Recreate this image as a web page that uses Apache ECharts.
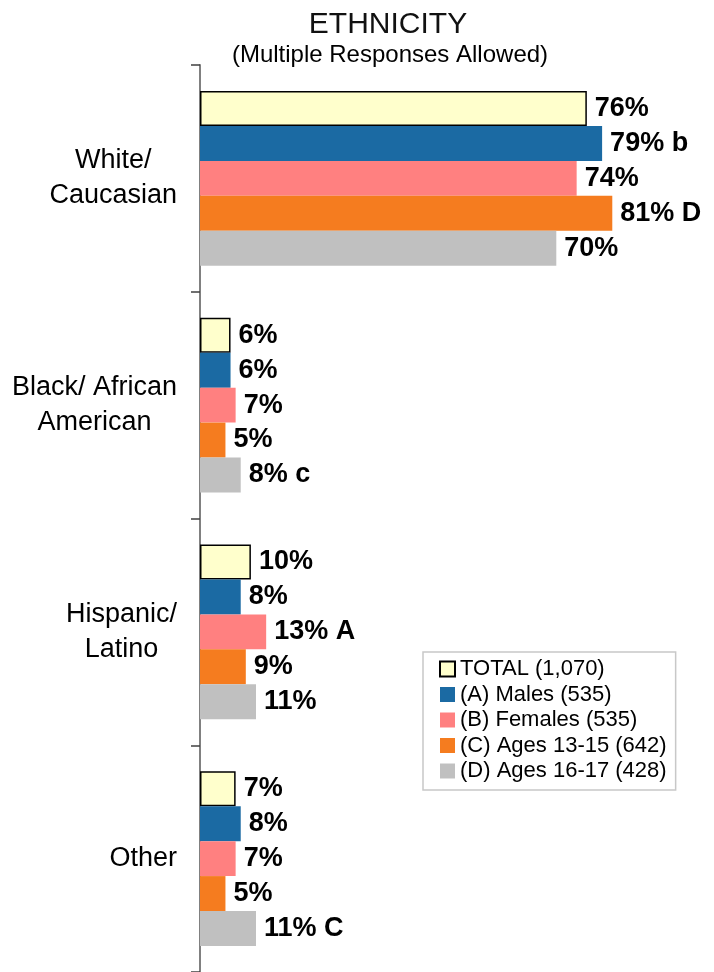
<!DOCTYPE html>
<html>
	<head>
		<meta charset="utf-8" />
		<title>ethnicity</title>
		<script src="https://cdn.jsdelivr.net/npm/echarts@6/dist/echarts.min.js"></script>
	</head>
	<body style="margin:0;">
		<div id="chart" style="width:714px;height:972px;"></div>
	</body>
	<script type="text/javascript">

	var categories = ['White/\nCaucasian', 'Black/ African\nAmerican', 'Hispanic/\nLatino', 'Other'];
	var seriesNames = ['TOTAL (1,070)', '(A) Males (535)', '(B) Females (535)', '(C) Ages 13-15 (642)', '(D) Ages 16-17 (428)'];

	var total    = [76, 6, 10, 7];
	var males    = [79, 6, 8, 8];
	var females  = [74, 7, 13, 7];
	var ages1315 = [81, 5, 9, 5];
	var ages1617 = [70, 8, 11, 11];

	// significance letters after the percent
	var totalSig    = ['', '', '', ''];
	var malesSig    = ['b', '', '', ''];
	var femalesSig  = ['', '', 'A', ''];
	var ages1315Sig = ['D', '', '', ''];
	var ages1617Sig = ['', 'c', '', 'C'];

	var colors = ['#FFFFCC', '#1B6AA3', '#FF8080', '#F57C1F', '#C0C0C0'];
	var font = 'Liberation Sans, Arial, sans-serif';
	var catFontSize = 27;

	// category labels: block right aligned, lines centred inside the block
	var ctx = document.createElement('canvas').getContext('2d');
	ctx.font = catFontSize + 'px ' + font;
	var rich = {};
	var catLabels = categories.map(function (c, i) {
		var lines = c.split('\n');
		var ws = lines.map(function (l) { return ctx.measureText(l).width; });
		var maxW = Math.max.apply(null, ws);
		return lines.map(function (l, j) {
			var key = 'c' + i + '_' + j;
			rich[key] = {
				fontFamily: font,
				fontSize: catFontSize,
				lineHeight: 35,
				color: '#000',
				padding: [0, (maxW - ws[j]) / 2, 0, 0]
			};
			return '{' + key + '|' + l + '}';
		}).join('\n');
	});

	function makeSeries(idx, data, sig) {
		return {
			name: seriesNames[idx],
			type: 'bar',
			data: data,
			barGap: '0%',
			barCategoryGap: '23%',
			itemStyle: {
				color: colors[idx],
				borderColor: idx == 0 ? '#000' : null,
				borderWidth: idx == 0 ? 1.5 : 0
			},
			label: {
				show: true,
				position: 'right',
				distance: 8,
				color: '#000',
				fontFamily: font,
				fontWeight: 'bold',
				fontSize: 27,
				formatter: function (p) {
					var s = sig[p.dataIndex];
					return p.value + '%' + (s ? ' ' + s : '');
				}
			}
		};
	}

	var myChart = echarts.init(document.getElementById('chart'));
	var option = {
		animation: false,
		title: [{
			text: 'ETHNICITY',
			left: 383,
			top: 5,
			textAlign: 'center',
			textStyle: { fontFamily: font, fontWeight: 'normal', fontSize: 30, color: '#111' }
		}, {
			text: '(Multiple Responses Allowed)',
			left: 385,
			top: 38,
			textAlign: 'center',
			textStyle: { fontFamily: font, fontWeight: 'normal', fontSize: 24, color: '#000' }
		}],
		legend: {
			orient: 'vertical',
			left: 423,
			top: 652,
			padding: [6, 9, 8, 16],
			itemWidth: 15,
			itemHeight: 15,
			itemGap: 3.5,
			icon: 'rect',
			borderColor: '#c8c8c8',
			borderWidth: 1.5,
			textStyle: { fontFamily: font, fontSize: 22, lineHeight: 22, color: '#000' },
			data: seriesNames
		},
		grid: {
			left: 200,
			top: 65,
			width: 509,
			height: 908
		},
		xAxis: {
			type: 'value',
			min: 0,
			max: 100,
			show: false
		},
		yAxis: {
			type: 'category',
			inverse: true,
			data: categories,
			axisLine: { show: true, lineStyle: { color: '#808080', width: 2 } },
			axisTick: { show: true, length: 9, lineStyle: { color: '#404040', width: 1.5 } },
			axisLabel: {
				align: 'right',
				margin: 23,
				rich: rich,
				formatter: function (value, index) {
					return catLabels[index];
				}
			}
		},
		series: [
			makeSeries(0, total, totalSig),
			makeSeries(1, males, malesSig),
			makeSeries(2, females, femalesSig),
			makeSeries(3, ages1315, ages1315Sig),
			makeSeries(4, ages1617, ages1617Sig)
		]
	};
	myChart.setOption(option);

	</script>
</html>
